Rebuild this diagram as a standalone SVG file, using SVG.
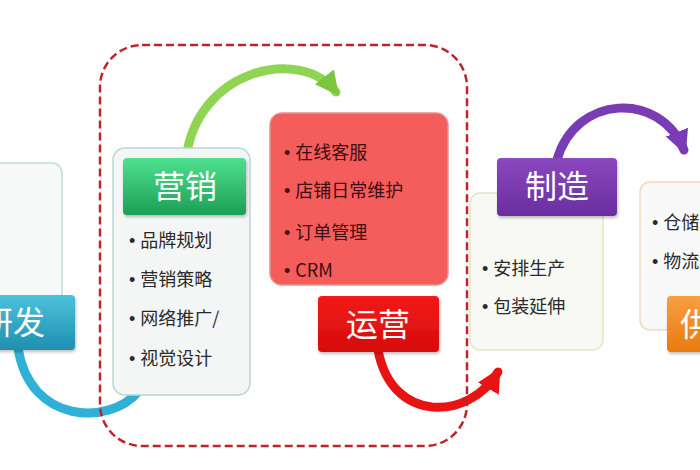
<svg xmlns="http://www.w3.org/2000/svg" width="700" height="470" viewBox="0 0 700 470">
<defs>
<linearGradient id="gGreen" x1="0" y1="0" x2="0" y2="1"><stop offset="0" stop-color="#4fe08f"/><stop offset="1" stop-color="#1c9f55"/></linearGradient>
<linearGradient id="gBlue" x1="0" y1="0" x2="0" y2="1"><stop offset="0" stop-color="#4cc2dc"/><stop offset="1" stop-color="#1f8fb0"/></linearGradient>
<linearGradient id="gRed" x1="0" y1="0" x2="0" y2="1"><stop offset="0" stop-color="#f31a1a"/><stop offset="1" stop-color="#d60c0c"/></linearGradient>
<linearGradient id="gPurple" x1="0" y1="0" x2="0" y2="1"><stop offset="0" stop-color="#8a48be"/><stop offset="1" stop-color="#6a2ea0"/></linearGradient>
<linearGradient id="gOrange" x1="0" y1="0" x2="0" y2="1"><stop offset="0" stop-color="#f7a040"/><stop offset="1" stop-color="#e87a10"/></linearGradient>
<filter id="sh" x="-10%" y="-10%" width="130%" height="140%"><feDropShadow dx="1" dy="2" stdDeviation="1.5" flood-color="#000" flood-opacity="0.25"/></filter>
<marker id="mGreen" markerUnits="userSpaceOnUse" viewBox="0 0 10 10" refX="8" refY="5" markerWidth="24" markerHeight="24" orient="auto"><path d="M0,0 L10,5 L0,10 z" fill="#7cc63e"/></marker>
<marker id="mRed" markerUnits="userSpaceOnUse" viewBox="0 0 10 10" refX="8" refY="5" markerWidth="24" markerHeight="24" orient="auto"><path d="M0,0 L10,5 L0,10 z" fill="#e81414"/></marker>
<marker id="mPurple" markerUnits="userSpaceOnUse" viewBox="0 0 10 10" refX="8" refY="5" markerWidth="24" markerHeight="24" orient="auto"><path d="M0,0 L10,5 L0,10 z" fill="#7a3cb4"/></marker>
</defs>
<style>
.box{stroke-width:1.5}
.lbl{font-family:"Noto Sans CJK SC","Noto Sans",sans-serif;font-size:32px;fill:#fff;text-anchor:middle}
.item{font-family:"Noto Sans CJK SC","Noto Sans",sans-serif;font-size:18px;fill:#2a2a2a}
.ritem{font-family:"Noto Sans CJK SC","Noto Sans",sans-serif;font-size:18px;fill:#3a0e0e}
.b{font-family:"Liberation Sans",sans-serif}
.arc{fill:none;stroke-width:9;stroke-linecap:round}
</style>
<rect width="700" height="470" fill="#fff"/>

<g id="connectors">
<path class="arc" d="M18,348 C30,425 110,425 138,392" stroke="#30b0d6"/>
<path class="arc" d="M186,160 C195,70 300,45 336,92" stroke="#8fd452" marker-end="url(#mGreen)"/>
<path class="arc" d="M378,350 C392,425 470,420 498,372" stroke="#e81414" marker-end="url(#mRed)"/>
<path class="arc" d="M557,160 C575,95 660,90 684,150" stroke="#7a3cb4" marker-end="url(#mPurple)"/>
</g>

<g id="node-yanfa">
<rect class="box" x="-20" y="163" width="82" height="140" rx="10" fill="#f7f9f9" stroke="#bcdcdc"/>
<rect x="-20" y="295" width="95" height="55" rx="4" fill="url(#gBlue)" filter="url(#sh)"/>
<text class="lbl" x="13" y="334">研发</text>
</g>

<g id="node-yingxiao">
<rect class="box" x="113" y="148" width="137" height="247" rx="12" fill="#f4f6f6" stroke="#b8d6d6"/>
<rect x="123" y="158" width="123" height="57" rx="4" fill="url(#gGreen)" filter="url(#sh)"/>
<text class="lbl" x="185" y="198">营销</text>
<text class="item" x="129" y="247"><tspan class="b">• </tspan>品牌规划</text>
<text class="item" x="129" y="286"><tspan class="b">• </tspan>营销策略</text>
<text class="item" x="129" y="325"><tspan class="b">• </tspan>网络推广/</text>
<text class="item" x="129" y="365"><tspan class="b">• </tspan>视觉设计</text>
</g>

<g id="node-yunying">
<rect x="270" y="113" width="178" height="172" rx="12" fill="#f55c5c" stroke="#e69090" stroke-width="1.5"/>
<text class="ritem" x="284" y="159"><tspan class="b">• </tspan>在线客服</text>
<text class="ritem" x="284" y="197"><tspan class="b">• </tspan>店铺日常维护</text>
<text class="ritem" x="284" y="239"><tspan class="b">• </tspan>订单管理</text>
<text class="ritem" x="284" y="277"><tspan class="b">• </tspan>CRM</text>
<rect x="318" y="296" width="121" height="56" rx="4" fill="url(#gRed)" filter="url(#sh)"/>
<text class="lbl" x="378" y="336">运营</text>
</g>

<g id="node-zhizao">
<rect class="box" x="470" y="193" width="133" height="157" rx="10" fill="#f8f9f5" stroke="#dfe8c4"/>
<rect x="497" y="158" width="120" height="58" rx="4" fill="url(#gPurple)" filter="url(#sh)"/>
<text class="lbl" x="557" y="198">制造</text>
<text class="item" x="482" y="275"><tspan class="b">• </tspan>安排生产</text>
<text class="item" x="482" y="313"><tspan class="b">• </tspan>包装延伸</text>
</g>

<g id="node-gongying">
<rect class="box" x="640" y="182" width="80" height="148" rx="10" fill="#f9f9f9" stroke="#efd8bc"/>
<text class="item" x="652" y="229"><tspan class="b">• </tspan>仓储</text>
<text class="item" x="652" y="268"><tspan class="b">• </tspan>物流</text>
<rect x="667" y="296" width="60" height="56" rx="4" fill="url(#gOrange)" filter="url(#sh)"/>
<text class="lbl" x="680" y="336" style="text-anchor:start">供</text>
</g>

<g id="group-frame">
<rect x="100" y="45" width="367" height="401" rx="42" fill="none" stroke="#c0242a" stroke-width="2.5" stroke-dasharray="8 4"/>
</g>
</svg>
